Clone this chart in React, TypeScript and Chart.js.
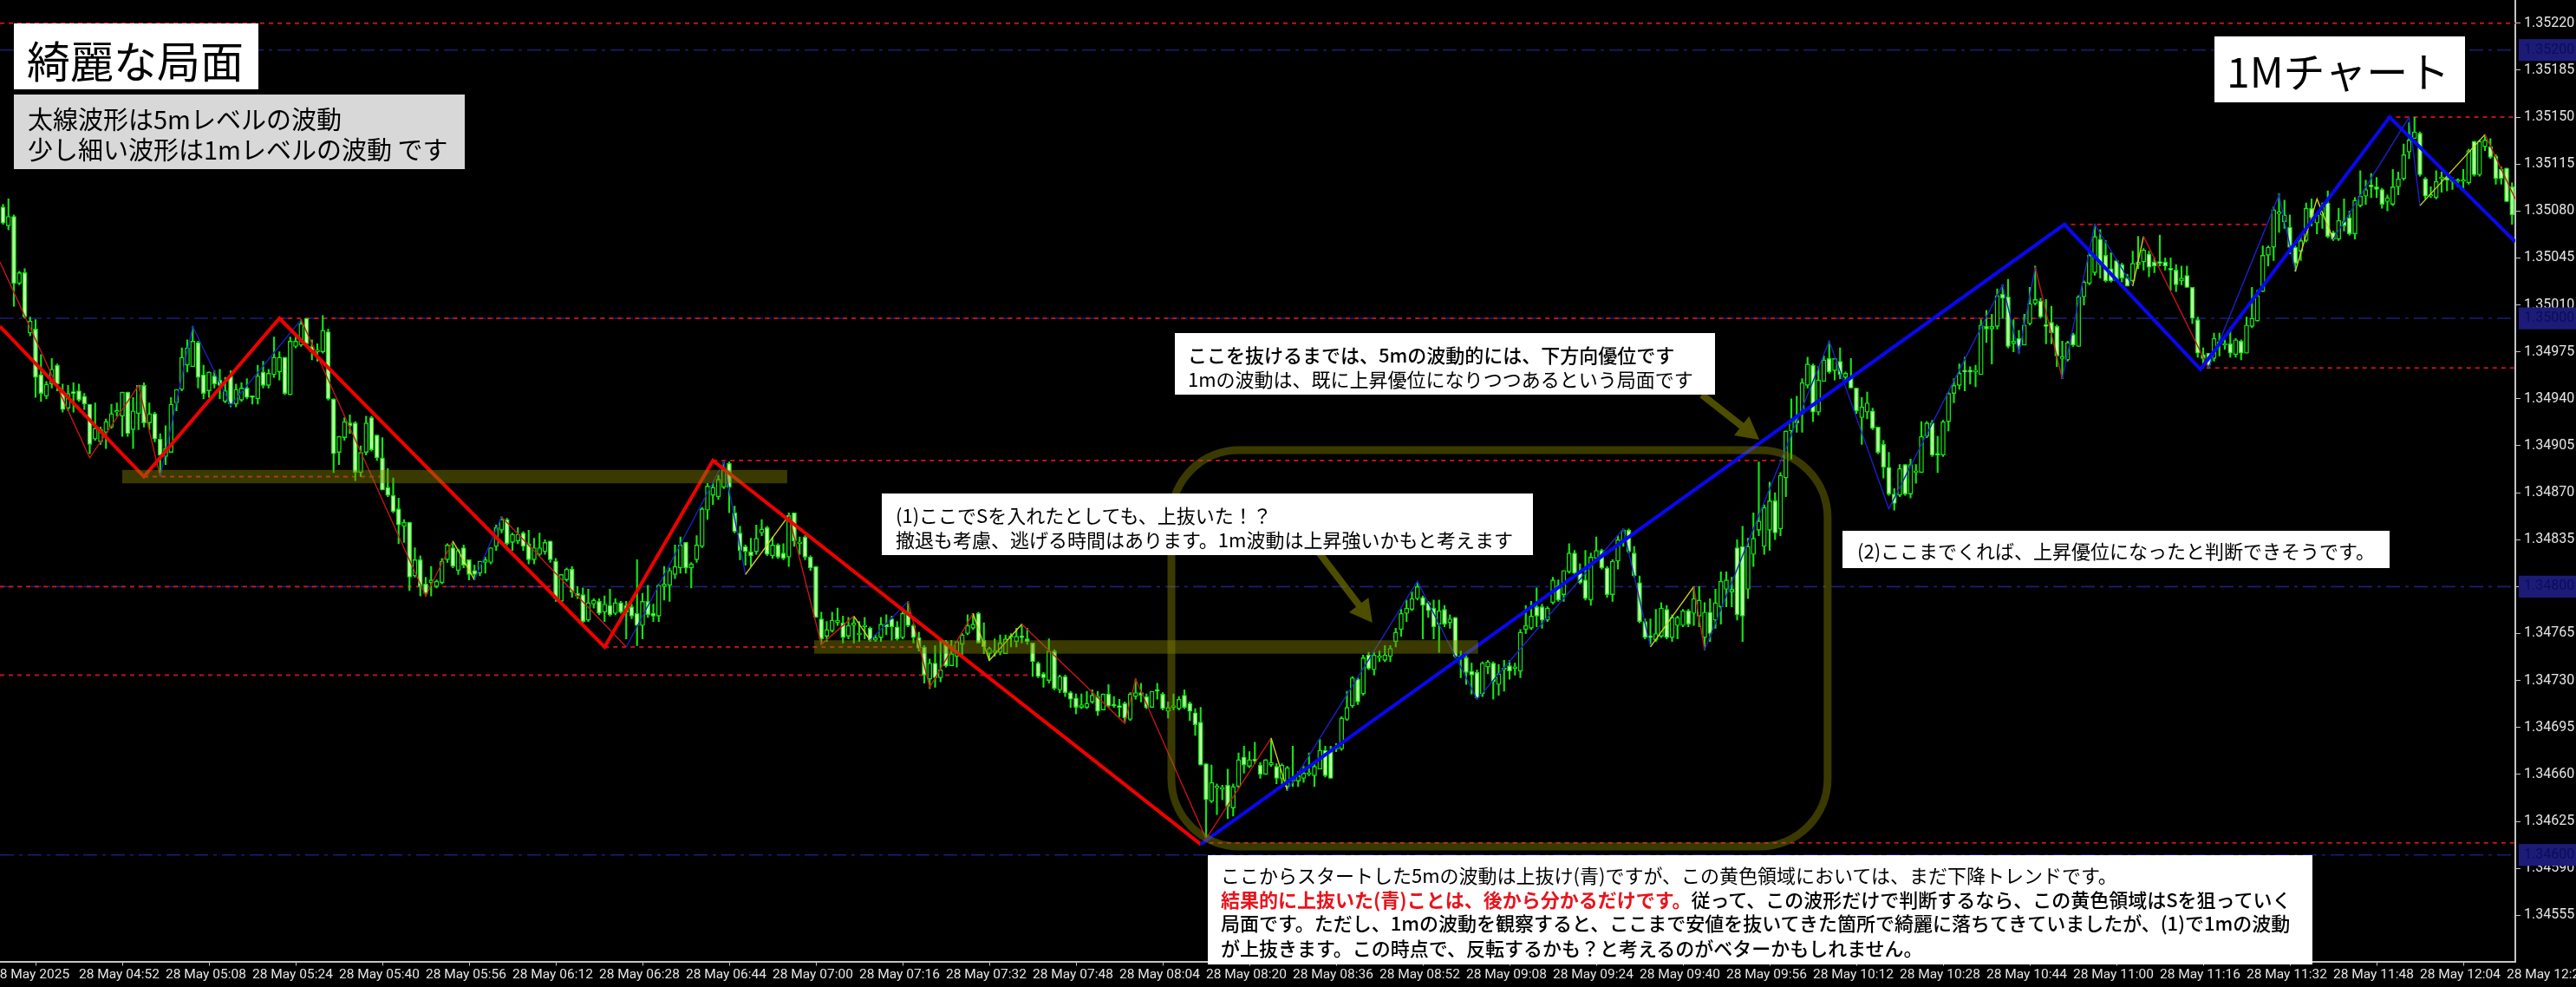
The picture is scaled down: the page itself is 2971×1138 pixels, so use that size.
import React, { useEffect, useRef } from "react";
import { Chart, registerables } from "chart.js";

Chart.register(...registerables);

// All price values are in points above 1.34000 (1 point = 0.00001)
const PRICE_BASE = 1.34;
const price = (points: number) => PRICE_BASE + points / 100000;

const highs = [
1085,1089,1077,1035,1037,1001,999,973,953,970,
966,951,950,952,951,944,936,937,919,925,
936,937,945,945,941,950,952,937,930,914,
920,941,947,978,984,994,983,965,960,961,
962,956,961,951,952,955,942,965,968,962,
986,975,971,986,986,999,1000,984,981,1002,
992,940,912,926,928,923,905,927,927,913,
911,888,881,866,850,848,829,823,807,815,
805,821,832,833,828,831,820,816,819,822,
829,846,852,851,840,844,841,842,836,840,
835,834,821,809,814,815,800,799,798,791,
791,793,798,791,789,789,787,820,795,801,
787,802,815,814,831,837,833,818,838,859,
877,877,883,893,893,860,845,831,836,846,
850,845,837,832,832,855,855,837,838,823,
815,781,774,781,784,778,777,777,774,777,
770,764,777,779,778,774,783,789,772,766,
756,746,756,760,760,760,759,765,779,780,
781,773,755,761,764,764,765,769,772,769,
758,744,736,761,753,734,734,722,720,720,
722,723,722,720,727,718,716,714,721,731,
728,720,722,728,721,714,720,718,723,714,
709,710,668,667,653,652,664,653,676,681,
677,684,669,671,687,668,668,666,681,662,
666,676,669,686,681,681,683,703,722,733,
732,749,751,751,752,756,756,769,783,790,
796,803,793,789,790,790,786,779,777,752,
749,743,738,744,745,744,742,745,745,743,
768,786,789,799,787,785,807,805,812,832,
827,817,827,825,837,828,815,820,838,843,
843,830,808,776,776,783,788,786,779,778,
783,783,800,800,788,791,798,811,811,807,
835,845,836,855,893,861,878,870,885,916,
940,942,955,971,966,964,972,983,970,978,
960,970,948,941,945,933,919,909,900,873,
891,891,895,891,923,923,924,912,924,945,
955,966,971,964,965,999,1006,1003,1022,1025,
1029,999,991,1003,1023,1039,1015,1014,1009,995,
983,983,989,1017,1028,1050,1070,1066,1058,1049,
1044,1041,1033,1050,1061,1052,1050,1045,1062,1045,
1045,1040,1039,1039,1023,1001,978,974,989,989,
984,993,985,984,1001,1023,1021,1054,1054,1083,
1093,1088,1077,1054,1061,1086,1089,1078,1086,1095,
1065,1082,1089,1080,1090,1110,1103,1108,1105,1097,
1092,1111,1109,1130,1146,1150,1139,1105,1098,1110,
1109,1108,1105,1104,1111,1126,1132,1133,1137,1134,
1122,1113,1112,1101];

const bodyHighs = [
1083,1076,1076,1034,1034,998,992,958,951,962,
965,945,944,945,946,942,936,918,917,923,
929,931,945,945,931,950,950,929,929,910,
903,936,947,971,978,983,982,958,960,957,
954,946,957,947,948,948,942,957,960,959,
971,971,971,983,983,996,1000,979,976,991,
990,940,912,923,922,922,900,922,926,913,
896,874,868,858,848,848,820,820,802,805,
804,819,831,829,827,829,820,812,819,820,
829,844,850,850,839,839,840,832,829,829,
833,834,819,809,813,813,795,794,788,790,
789,787,786,788,788,786,785,780,789,789,
780,801,802,812,815,831,833,817,831,858,
875,874,880,889,892,855,840,830,826,836,
843,844,831,831,825,853,855,833,837,822,
815,776,768,775,775,773,771,773,765,771,
769,762,772,772,776,770,780,781,771,762,
755,743,743,738,759,750,759,764,771,772,
780,760,754,752,758,761,763,763,763,761,
758,743,735,752,752,733,733,721,717,712,
713,719,718,720,720,712,711,713,720,721,
721,718,722,723,720,710,711,716,719,713,
706,699,668,654,651,650,652,651,671,673,
671,671,667,671,669,666,667,665,656,659,
661,661,666,678,678,678,680,702,710,732,
731,747,749,749,747,749,754,766,780,784,
791,800,792,788,784,782,783,776,777,748,
747,737,736,743,744,743,735,739,741,740,
766,771,778,785,785,784,805,801,812,825,
825,810,805,822,827,827,814,819,835,842,
842,825,803,774,763,765,784,783,777,777,
782,782,791,790,781,781,788,804,805,798,
829,830,830,836,849,859,864,864,883,916,
924,924,952,966,965,954,969,970,970,968,
959,956,948,934,937,931,919,906,889,869,
888,891,891,886,912,922,922,899,923,944,
950,959,961,961,961,995,994,994,1017,1018,
1016,983,985,995,1011,1014,1013,995,997,994,
970,982,988,1016,1027,1047,1061,1059,1047,1037,
1043,1040,1030,1041,1042,1051,1048,1042,1042,1042,
1037,1036,1030,1032,1023,999,973,974,985,982,
981,981,984,983,995,1000,1017,1047,1053,1081,
1079,1077,1068,1053,1058,1082,1082,1077,1083,1086,
1064,1073,1072,1075,1088,1091,1096,1099,1098,1096,
1090,1098,1104,1122,1133,1139,1138,1104,1092,1102,
1105,1105,1103,1103,1103,1125,1132,1132,1133,1128,
1121,1111,1112,1098];

const bodyLows = [
1071,1069,1026,1026,1001,989,956,944,942,951,
951,932,933,944,939,936,906,910,908,915,
919,930,927,914,917,929,922,922,910,898,
897,900,937,947,965,964,956,944,946,951,
950,938,936,936,939,941,941,940,950,950,
958,960,944,943,979,980,981,975,975,975,
940,899,900,911,920,885,885,900,902,896,
872,868,856,846,845,807,808,800,795,803,
800,803,820,815,812,816,809,809,810,818,
818,830,842,832,833,834,830,820,820,824,
826,820,791,789,805,796,793,774,775,787,
780,781,779,780,781,781,778,771,771,779,
778,778,800,801,809,814,814,814,820,830,
857,868,867,874,874,841,827,826,823,826,
840,824,823,822,821,822,834,832,822,814,
777,761,763,767,773,762,763,771,764,770,
760,760,762,770,770,761,762,771,762,754,
734,731,732,732,741,741,748,757,765,769,
758,755,750,751,751,750,762,759,762,759,
744,733,732,730,724,723,721,716,710,710,
710,714,707,708,711,711,710,702,701,718,
719,710,710,722,709,707,710,709,710,707,
697,667,641,640,650,649,636,635,651,667,
666,670,660,660,667,657,657,651,655,655,
657,660,659,664,659,657,679,679,701,711,
714,720,739,738,747,745,748,759,768,780,
783,791,786,782,770,772,772,773,748,747,
736,734,717,720,740,729,727,738,737,739,
737,768,769,778,775,775,788,790,794,811,
810,803,791,790,821,814,794,794,819,834,
826,808,774,762,762,760,763,762,762,771,
771,772,780,778,762,765,775,785,798,796,
779,778,798,824,842,830,842,840,843,881,
916,922,929,950,930,930,953,960,961,958,
956,948,931,926,930,918,900,889,869,862,
868,869,869,885,885,912,898,898,898,923,
944,950,960,960,960,958,992,992,994,1015,
979,981,979,980,996,1011,1001,994,989,972,
970,969,980,979,1016,1026,1034,1040,1028,1028,
1028,1030,1024,1028,1040,1042,1038,1039,1041,1039,
1036,1025,1028,1023,1000,974,970,965,970,981,
980,974,973,974,974,994,998,1020,1047,1053,
1078,1072,1053,1041,1050,1058,1075,1071,1077,1061,
1059,1059,1069,1063,1063,1084,1091,1098,1096,1085,
1087,1085,1098,1104,1124,1134,1107,1091,1091,1090,
1104,1103,1102,1102,1102,1101,1107,1107,1128,1120,
1104,1104,1087,1077];

const lows = [
1070,1066,1009,1025,1000,987,941,938,940,948,
946,930,931,930,938,932,899,909,906,903,
918,927,912,912,903,917,919,917,908,885,
891,900,931,946,960,964,948,940,941,948,
940,937,934,934,938,940,936,936,948,948,
956,954,943,943,978,979,980,969,968,974,
939,885,891,909,914,879,882,898,901,894,
872,867,855,832,833,797,807,793,793,793,
799,802,818,814,809,814,805,805,808,810,
817,827,840,831,827,832,827,817,817,823,
824,818,789,788,804,792,791,773,774,784,
779,774,778,779,780,761,776,756,761,777,
774,774,790,789,806,810,810,799,818,829,
850,861,865,873,855,840,820,816,815,824,
838,823,821,821,820,815,830,824,820,812,
777,757,759,766,771,758,761,758,759,761,
759,759,759,764,760,760,761,770,758,752,
728,724,725,729,740,741,740,749,764,768,
758,750,745,748,749,750,755,755,758,757,
733,732,725,728,723,721,718,710,705,709,
709,713,704,708,710,710,703,699,700,716,
714,709,710,716,708,702,708,708,709,700,
689,667,611,639,630,641,627,629,650,661,
665,668,657,660,666,653,653,648,651,651,
654,659,651,664,658,657,677,678,700,710,
712,719,738,734,744,744,744,755,763,774,
782,790,761,777,761,751,770,769,747,732,
727,720,716,718,735,716,719,722,731,734,
732,765,768,770,769,774,787,789,789,810,
808,802,790,786,820,813,792,789,813,830,
825,807,773,761,757,759,762,761,759,761,
770,770,771,770,753,759,769,772,785,785,
775,759,791,815,838,824,827,835,838,867,
895,915,915,948,923,928,953,959,954,955,
953,948,929,906,925,917,899,881,868,857,
867,868,866,877,885,911,897,885,897,916,
937,947,946,951,949,958,982,966,992,1000,
978,975,974,980,995,1010,1000,981,981,964,
955,968,979,979,1010,1025,1032,1030,1027,1027,
1028,1027,1024,1027,1037,1036,1031,1034,1039,1036,
1021,1020,1025,1023,996,971,963,963,968,972,
977,971,971,969,974,993,998,1020,1039,1043,
1064,1067,1048,1035,1043,1057,1069,1063,1067,1060,
1058,1058,1065,1062,1059,1083,1085,1090,1090,1082,
1080,1084,1092,1103,1119,1134,1106,1089,1090,1089,
1094,1095,1096,1098,1096,1100,1106,1106,1125,1119,
1100,1100,1087,1070];

// 1 = rising candle (hollow), 0 = falling candle (filled)
const rising = [
0,1,0,1,0,1,0,0,1,1, 0,0,1,0,0,0,0,1,1,1, 1,1,1,0,1,1,0,1,0,0, 1,1,1,1,1,1,0,0,1,0,
0,1,0,1,1,0,0,1,0,1, 1,1,0,1,1,1,0,0,1,1, 0,0,1,1,0,0,1,1,0,0, 0,0,0,0,1,0,1,0,0,1,
1,1,1,0,1,0,0,0,1,1, 1,1,1,0,1,1,0,0,1,1, 1,0,0,1,1,0,0,0,1,1, 0,1,0,1,0,0,0,0,1,0,
0,1,1,1,1,1,0,1,1,1, 1,1,1,1,0,0,0,0,0,1, 1,0,1,0,0,1,0,1,0,0, 0,0,1,1,1,0,1,1,1,1,
0,1,1,0,0,0,1,0,0,0, 0,1,0,1,0,1,1,1,1,1, 0,0,1,1,1,1,1,1,0,0, 0,0,0,1,0,1,0,0,0,1,
1,1,0,1,0,0,0,0,1,1, 0,0,1,0,0,1,1,1,0,0, 0,0,0,1,1,1,0,1,1,0, 1,0,0,1,1,0,1,1,0,1,
1,1,1,1,0,0,1,1,1,1, 0,1,0,1,1,1,1,1,1,1, 1,1,0,0,0,1,0,1,0,0, 0,0,0,1,1,0,1,1,0,1,
1,1,1,0,0,1,1,0,1,1, 0,0,0,1,1,0,0,1,1,1, 0,0,0,0,0,1,1,0,1,1, 1,0,1,1,1,0,1,1,1,1,
0,0,1,1,1,1,1,0,1,1, 1,0,1,1,0,1,1,0,1,0, 1,0,0,1,1,0,0,0,0,0, 1,0,1,1,1,1,0,0,1,1,
1,1,0,0,1,1,0,1,1,0, 0,1,0,1,1,1,0,0,0,0, 1,1,0,1,1,1,1,0,0,0, 0,0,0,1,1,1,0,0,0,0,
0,0,1,0,0,0,0,0,1,1, 1,0,1,0,1,1,1,1,1,1, 1,1,0,0,1,1,0,1,1,0, 0,1,0,0,1,1,1,0,0,0,
1,1,1,1,1,1,0,0,1,1, 1,0,1,1,1,1,0,1,1,0, 0,0,0,0];

const minutes = highs.map((_, i) => i); // minutes since 04:38

// 1-minute swing line
const swingMinutes = [-0.56,16,25,29,35,42,55,78,83,87,92,115,133,137,145,151,157,160,167,171,179,182,188,207,209,222,234,237,261,272,299,304,312,314,337,348,369,372,375,380,386,393,395,407,420,423,427,430,444,446,458,463.6];
const swingPoints = [1042,896,950,882,994,935,999,793,834,805,852,755,893,809,853,757,778,760,789,725,780,745,772,698,731,612,687,648,804,716,843,755,800,753,983,858,1025,974,1038,955,1070,1024,1061,963,1092,1035,1089,1059,1150,1084,1137,1089];
const RED = "#c8141a", YEL = "#d8d020", BLU = "#1c20c8";
const swingColors = [RED,RED,RED,BLU,BLU,BLU,RED,RED,YEL,BLU,RED,BLU,BLU,YEL,RED,RED,YEL,BLU,RED,RED,YEL,YEL,RED,RED,RED,RED,YEL,BLU,BLU,BLU,BLU,YEL,RED,BLU,BLU,BLU,BLU,BLU,RED,BLU,BLU,YEL,RED,BLU,BLU,YEL,YEL,BLU,BLU,YEL,RED];

// 5-minute swing line
const waveMinutes = [-0.56,26,51,111,131,221,380.4,405.5,440.4,463.6];
const wavePoints = [994,882,1000,755,894,608,1070,962,1150,1057];
const waveColors = ["#f00000","#f00000","#f00000","#f00000","#f00000","#0808f0","#0808f0","#0808f0","#0808f0"];

// Support / resistance levels (red)
const levelPoints = [1220,1150,1070,1000,963,894,882,800,755,734,609];
const levelStarts = [-0.56,440,380,51,405,131,26,-0.56,111,-0.56,221];
const levelEnds = [463.6,463.6,418.5,375,463.6,329.5,70,102,170,190,463.6];

// Round number levels (navy)
const roundPoints = [1200,1000,800,600];

// Axis labels
const yTickPoints = [1220,1185,1150,1115,1080,1045,1010,975,940,905,870,835,800,765,730,695,660,625,590,555];
const xTickMinutes = [-2,14,30,46,62,78,94,110,126,142,158,174,190,206,222,238,254,270,286,302,318,334,350,366,382,398,414,430,446,462];
const xTickLabels = ["28 May 2025","28 May 04:52","28 May 05:08","28 May 05:24","28 May 05:40","28 May 05:56","28 May 06:12","28 May 06:28","28 May 06:44","28 May 07:00","28 May 07:16","28 May 07:32","28 May 07:48","28 May 08:04","28 May 08:20","28 May 08:36","28 May 08:52","28 May 09:08","28 May 09:24","28 May 09:40","28 May 09:56","28 May 10:12","28 May 10:28","28 May 10:44","28 May 11:00","28 May 11:16","28 May 11:32","28 May 11:48","28 May 12:04","28 May 12:20"];

// Highlighted zones, in chart units: [from minute, to minute, top points, bottom points]
const bandOne = [22, 144.7, 887, 877];
const bandTwo = [149.7, 272.2, 760, 750];
const zoneFrame = [215.6, 336.7, 901.7, 606.3];
// Arrows: [from minute, from points, to minute, to points]
const arrowOne = [242.6, 826.7, 252.7, 773];
const arrowTwo = [313.5, 943, 324.1, 909.5];

const AXIS_FONT = "'Liberation Sans Narrow', Roboto, sans-serif";
const JP_FONT = "'Noto Sans CJK JP', sans-serif";
const OLIVE = "rgba(128,128,0,0.45)";

const overlayPlugin = {
  id: "overlay",
  afterDatasetsDraw(chart: any) {
    const { ctx, scales } = chart;
    const X = (v: number) => scales.x.getPixelForValue(v);
    const Y = (p: number) => scales.y.getPixelForValue(price(p));
    ctx.save();
    ctx.fillStyle = OLIVE;
    for (const b of [bandOne, bandTwo]) {
      ctx.fillRect(X(b[0]), Y(b[2]), X(b[1]) - X(b[0]), Y(b[3]) - Y(b[2]));
    }
    ctx.strokeStyle = OLIVE;
    ctx.lineWidth = 9;
    ctx.beginPath();
    ctx.roundRect(X(zoneFrame[0]), Y(zoneFrame[2]), X(zoneFrame[1]) - X(zoneFrame[0]), Y(zoneFrame[3]) - Y(zoneFrame[2]), 78);
    ctx.stroke();
    ctx.fillStyle = "rgba(128,128,0,0.6)";
    for (const a of [arrowOne, arrowTwo]) {
      const x0 = X(a[0]), y0 = Y(a[1]), x1 = X(a[2]), y1 = Y(a[3]);
      const ang = Math.atan2(y1 - y0, x1 - x0);
      const ux = Math.cos(ang), uy = Math.sin(ang), nx = -uy, ny = ux;
      const head = 26, hw = 14, sw = 4;
      const bx = x1 - ux * head, by = y1 - uy * head;
      ctx.beginPath();
      ctx.moveTo(x0 + nx * sw, y0 + ny * sw);
      ctx.lineTo(bx + nx * sw, by + ny * sw);
      ctx.lineTo(bx + nx * hw, by + ny * hw);
      ctx.lineTo(x1, y1);
      ctx.lineTo(bx - nx * hw, by - ny * hw);
      ctx.lineTo(bx - nx * sw, by - ny * sw);
      ctx.lineTo(x0 - nx * sw, y0 - ny * sw);
      ctx.closePath();
      ctx.fill();
    }
    ctx.restore();
  },
};

const noPadding = (s: any) => {
  s.paddingLeft = 0;
  s.paddingRight = 0;
  s.paddingTop = 0;
  s.paddingBottom = 0;
};

const Box = ({ x, y, w, h, bg }: any) => (
  <div style={{ position: "absolute", left: x, top: y, width: w, height: h, background: bg }} />
);
const Line = ({ x, cy, size, weight, children }: any) => (
  <div
    style={{
      position: "absolute",
      left: x,
      top: cy - size,
      height: size * 2,
      lineHeight: `${size * 2}px`,
      fontSize: size,
      fontWeight: weight || 400,
      fontFamily: JP_FONT,
      color: "#000",
      whiteSpace: "pre",
    }}
  >
    {children}
  </div>
);

export default function App() {
  const ref = useRef<HTMLCanvasElement>(null);
  useEffect(() => {
    document.body.style.margin = "0";
    document.body.style.background = "#000";
    const wicks = minutes.map((i) => ({ x: i, y: [price(lows[i]), price(highs[i])] }));
    const bodies = minutes.map((i) => ({ x: i, y: [price(bodyLows[i]), price(bodyHighs[i])] }));
    const lineSet = (xs: number[], ys: number[]) => xs.map((x, i) => ({ x, y: price(ys[i]) }));
    const levelSets = levelPoints.map((p, i) => ({
      type: "line",
      data: [
        { x: levelStarts[i], y: price(p) },
        { x: levelEnds[i], y: price(p) },
      ],
      borderColor: "#d0141a",
      borderWidth: 1.8,
      borderDash: [5, 5],
      pointRadius: 0,
      order: 5,
    }));
    const roundSets = roundPoints.map((p) => ({
      type: "line",
      data: [
        { x: -0.56, y: price(p) },
        { x: 463.6, y: price(p) },
      ],
      borderColor: "#1c1c78",
      borderWidth: 1.6,
      borderDash: [16, 6, 4, 6],
      pointRadius: 0,
      order: 6,
    }));
    const chart = new Chart(ref.current as any, {
      type: "bar",
      data: {
        datasets: [
          ...roundSets,
          ...levelSets,
          {
            data: wicks,
            backgroundColor: "#14e414",
            barThickness: 1.5,
            grouped: false,
            order: 4,
          },
          {
            data: bodies,
            backgroundColor: minutes.map((i) => (rising[i] ? "#000000" : "#c4ffa8")),
            borderColor: "#14e414",
            borderWidth: 1.4,
            borderSkipped: false,
            barThickness: 5,
            minBarLength: 2,
            grouped: false,
            order: 3,
          },
          {
            type: "line",
            data: lineSet(swingMinutes, swingPoints),
            borderColor: RED,
            borderWidth: 1.4,
            pointRadius: 0,
            segment: { borderColor: (c: any) => swingColors[c.p0DataIndex] },
            order: 2,
          },
          {
            type: "line",
            data: lineSet(waveMinutes, wavePoints),
            borderColor: "#f00000",
            borderWidth: 4,
            pointRadius: 0,
            segment: { borderColor: (c: any) => waveColors[c.p0DataIndex] },
            order: 1,
          },
        ] as any,
      },
      options: {
        animation: false,
        responsive: false,
        devicePixelRatio: 1,
        layout: { padding: 0 },
        plugins: { legend: { display: false }, tooltip: { enabled: false } },
        events: [],
        scales: {
          x: {
            type: "linear",
            min: -0.56,
            max: 463.6,
            offset: false,
            afterBuildTicks: (s: any) => {
              s.ticks = xTickMinutes.map((value) => ({ value }));
            },
            afterFit: (s: any) => {
              s.height = 29.5;
              noPadding(s);
            },
            border: { color: "#c4c4c4", width: 2 },
            grid: { drawOnChartArea: false, drawTicks: true, tickLength: 5, tickColor: "#c4c4c4" },
            ticks: {
              autoSkip: false,
              maxRotation: 0,
              minRotation: 0,
              align: "start",
              padding: 1,
              color: "#e4e4e4",
              font: { family: AXIS_FONT, size: 15.5 },
              callback: (_: any, index: number) => xTickLabels[index],
            },
          },
          y: {
            position: "right",
            min: 1.345206,
            max: 1.352373,
            afterBuildTicks: (s: any) => {
              s.ticks = [...yTickPoints, ...roundPoints].map((p) => ({ value: price(p) }));
            },
            afterFit: (s: any) => {
              s.width = 70;
              noPadding(s);
            },
            border: { color: "#c4c4c4", width: 2 },
            grid: {
              drawOnChartArea: false,
              drawTicks: true,
              tickLength: 6,
              tickColor: (c: any) => (c.index >= yTickPoints.length ? "transparent" : "#c4c4c4"),
            },
            ticks: {
              autoSkip: false,
              padding: 4,
              color: (c: any) => (c.index >= yTickPoints.length ? "#0c0c58" : "#e4e4e4"),
              font: { family: AXIS_FONT, size: 16 },
              showLabelBackdrop: true,
              backdropColor: (c: any) => (c.index >= yTickPoints.length ? "#1c1c78" : "transparent"),
              backdropPadding: { left: 6, right: 6, top: 3, bottom: 3 },
              callback: (v: number) => v.toFixed(5),
            },
          },
        },
      } as any,
      plugins: [overlayPlugin] as any,
    });
    return () => chart.destroy();
  }, []);

  return (
    <div style={{ position: "relative", width: 2971, height: 1138, overflow: "hidden", background: "#000" }}>
      <canvas ref={ref} width={2971} height={1138} style={{ display: "block", width: 2971, height: 1138 }} />

      <Box x={16} y={27} w={282} h={76} bg="#fff" />
      <Line x={31} cy={68} size={50}>綺麗な局面</Line>

      <Box x={16} y={109} w={520} h={86} bg="#d8d8d8" />
      <Line x={32} cy={136} size={29}>太線波形は5mレベルの波動</Line>
      <Line x={32} cy={171} size={29}>少し細い波形は1mレベルの波動 です</Line>

      <Box x={2554} y={42} w={289} h={76} bg="#fff" />
      <Line x={2568} cy={80} size={48}>1Mチャート</Line>

      <Box x={1355} y={384} w={623} h={71} bg="#fff" />
      <Line x={1370} cy={408} size={22} weight={500}>ここを抜けるまでは、5mの波動的には、下方向優位です</Line>
      <Line x={1370} cy={436} size={22}>1mの波動は、既に上昇優位になりつつあるという局面です</Line>

      <Box x={1017} y={569} w={751} h={71} bg="#fff" />
      <Line x={1033} cy={593} size={22}>(1)ここでSを入れたとしても、上抜いた！？</Line>
      <Line x={1033} cy={621} size={22}>撤退も考慮、逃げる時間はあります。1m波動は上昇強いかもと考えます</Line>

      <Box x={2125} y={612} w={631} h={43} bg="#fff" />
      <Line x={2142} cy={634} size={22}>(2)ここまでくれば、上昇優位になったと判断できそうです。</Line>

      <Box x={1393} y={986} w={1274} h={126} bg="#fff" />
      <Line x={1408} cy={1008} size={22}>ここからスタートした5mの波動は上抜け(青)ですが、この黄色領域においては、まだ下降トレンドです。</Line>
      <Line x={1408} cy={1036} size={22} weight={500}>
        <span style={{ color: "#e8141c", fontWeight: 700 }}>結果的に上抜いた(青)ことは、後から分かるだけです。</span>従って、この波形だけで判断するなら、この黄色領域はSを狙っていく
      </Line>
      <Line x={1408} cy={1063} size={22} weight={500}>局面です。ただし、1mの波動を観察すると、ここまで安値を抜いてきた箇所で綺麗に落ちてきていましたが、(1)で1mの波動</Line>
      <Line x={1408} cy={1092} size={22} weight={500}>が上抜きます。この時点で、反転するかも？と考えるのがベターかもしれません。</Line>
    </div>
  );
}
